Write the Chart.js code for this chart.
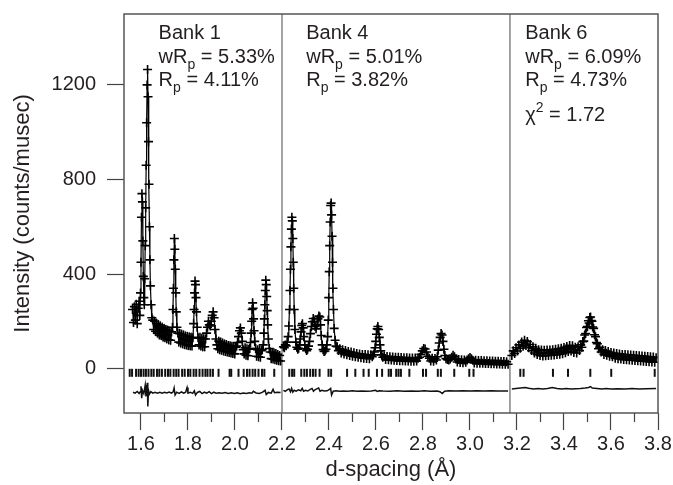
<!DOCTYPE html>
<html lang="en">
<head>
<meta charset="UTF-8">
<title>Rietveld fit - three banks</title>
<style>
  body { margin: 0; padding: 0; background: #fff; }
  .wrap { width: 673px; height: 485px; position: relative; }
</style>
<script src="https://cdn.jsdelivr.net/npm/chart.js"></script>
</head>
<body>
<div class="wrap"><canvas id="fit"></canvas></div>

<script>
// ---- data ----
// observed intensity (counts/musec) vs d-spacing (A), one pair of arrays per bank
const bank1D = [
  1.564, 1.568, 1.572, 1.576, 1.580, 1.584, 1.588, 1.592, 1.595, 1.598,
  1.600, 1.602, 1.604, 1.606, 1.608, 1.610, 1.612, 1.614, 1.616, 1.618,
  1.620, 1.622, 1.624, 1.626, 1.628, 1.630, 1.632, 1.634, 1.636, 1.638,
  1.640, 1.643, 1.646, 1.650, 1.654, 1.658, 1.662, 1.666, 1.670, 1.674,
  1.678, 1.682, 1.686, 1.690, 1.694, 1.698, 1.702, 1.706, 1.710, 1.714,
  1.718, 1.722, 1.726, 1.730, 1.734, 1.736, 1.738, 1.740, 1.742, 1.744,
  1.746, 1.748, 1.750, 1.753, 1.757, 1.761, 1.765, 1.769, 1.773, 1.777,
  1.781, 1.785, 1.789, 1.793, 1.797, 1.801, 1.805, 1.809, 1.813, 1.817,
  1.821, 1.824, 1.826, 1.828, 1.830, 1.832, 1.834, 1.836, 1.839, 1.843,
  1.847, 1.851, 1.855, 1.859, 1.863, 1.867, 1.871, 1.875, 1.879, 1.883,
  1.887, 1.891, 1.895, 1.899, 1.903, 1.907, 1.911, 1.915, 1.919, 1.923,
  1.927, 1.931, 1.935, 1.939, 1.943, 1.947, 1.951, 1.955, 1.959, 1.963,
  1.967, 1.971, 1.975, 1.979, 1.983, 1.987, 1.991, 1.995, 1.999, 2.003,
  2.007, 2.011, 2.015, 2.019, 2.023, 2.027, 2.031, 2.035, 2.039, 2.043,
  2.047, 2.051, 2.055, 2.059, 2.063, 2.066, 2.069, 2.071, 2.073, 2.075,
  2.077, 2.079, 2.081, 2.084, 2.088, 2.092, 2.096, 2.100, 2.104, 2.108,
  2.112, 2.116, 2.120, 2.123, 2.125, 2.127, 2.129, 2.131, 2.133, 2.135,
  2.137, 2.139, 2.142, 2.146, 2.150, 2.154, 2.158, 2.162, 2.166, 2.170,
  2.174, 2.178, 2.182, 2.186, 2.190, 2.194
];
const bank1Obs = [
  250, 195, 262, 205, 272, 190, 255, 285, 225, 320,
  450, 640, 740, 705, 540, 390, 300, 270, 380, 520,
  680, 860, 1040, 1200, 1265, 1150, 960, 780, 600, 460,
  350, 270, 215, 205, 165, 200, 158, 192, 150, 185,
  142, 180, 140, 175, 134, 170, 130, 165, 126, 162,
  122, 158, 120, 155, 175, 250, 340, 460, 550, 505,
  420, 320, 240, 175, 150, 112, 148, 108, 145, 105,
  142, 102, 138, 100, 136, 98, 134, 96, 132, 95,
  130, 190, 250, 320, 370, 355, 300, 240, 175, 130,
  100, 132, 95, 128, 92, 126, 92, 125, 150, 175,
  200, 185, 180, 200, 225, 240, 215, 165, 125, 100,
  84, 116, 80, 112, 77, 108, 74, 104, 72, 102,
  70, 98, 68, 96, 66, 94, 64, 92, 62, 90,
  95, 110, 135, 160, 172, 150, 115, 80, 62, 88,
  56, 84, 54, 82, 85, 110, 150, 200, 250, 278,
  255, 210, 160, 115, 85, 52, 80, 50, 78, 48,
  76, 80, 100, 150, 210, 270, 330, 374, 355, 305,
  245, 185, 125, 85, 70, 42, 68, 40, 66, 37,
  64, 35, 60, 33, 55, 32
];

const bank4D = [
  2.206, 2.210, 2.214, 2.218, 2.222, 2.226, 2.229, 2.232, 2.234, 2.236,
  2.238, 2.240, 2.242, 2.244, 2.246, 2.248, 2.250, 2.252, 2.255, 2.259,
  2.263, 2.267, 2.271, 2.275, 2.278, 2.281, 2.284, 2.287, 2.290, 2.293,
  2.297, 2.301, 2.305, 2.309, 2.313, 2.317, 2.321, 2.325, 2.329, 2.333,
  2.337, 2.341, 2.345, 2.349, 2.353, 2.357, 2.361, 2.364, 2.367, 2.371,
  2.375, 2.379, 2.383, 2.387, 2.391, 2.394, 2.397, 2.399, 2.401, 2.403,
  2.405, 2.407, 2.409, 2.411, 2.413, 2.415, 2.417, 2.419, 2.422, 2.426,
  2.430, 2.435, 2.440, 2.446, 2.452, 2.458, 2.464, 2.470, 2.476, 2.482,
  2.488, 2.494, 2.500, 2.506, 2.512, 2.518, 2.524, 2.530, 2.536, 2.542,
  2.548, 2.554, 2.560, 2.566, 2.572, 2.578, 2.584, 2.589, 2.593, 2.596,
  2.599, 2.602, 2.605, 2.608, 2.611, 2.614, 2.617, 2.620, 2.624, 2.629,
  2.635, 2.641, 2.647, 2.653, 2.659, 2.665, 2.671, 2.677, 2.683, 2.689,
  2.695, 2.701, 2.707, 2.713, 2.719, 2.725, 2.731, 2.737, 2.743, 2.749,
  2.755, 2.761, 2.767, 2.773, 2.779, 2.785, 2.791, 2.797, 2.803, 2.809,
  2.815, 2.821, 2.827, 2.833, 2.839, 2.845, 2.851, 2.857, 2.861, 2.865,
  2.869, 2.873, 2.877, 2.881, 2.885, 2.889, 2.893, 2.898, 2.904, 2.910,
  2.916, 2.922, 2.928, 2.934, 2.940, 2.946, 2.952, 2.958, 2.964, 2.970,
  2.976, 2.982, 2.988, 2.994, 3.000, 3.006, 3.012, 3.018, 3.024, 3.030,
  3.036, 3.042, 3.048, 3.054, 3.060, 3.066, 3.072, 3.078, 3.084, 3.090,
  3.096, 3.102, 3.108, 3.114, 3.120, 3.126, 3.132, 3.138, 3.144, 3.150,
  3.156, 3.162
];
const bank4Obs = [
  92, 88, 100, 96, 112, 135, 180, 250, 330, 420,
  515, 590, 640, 625, 550, 450, 340, 250, 165, 112,
  90, 82, 86, 100, 125, 155, 182, 190, 172, 135,
  100, 84, 76, 82, 95, 115, 148, 178, 198, 212,
  200, 178, 168, 185, 210, 222, 218, 185, 140, 100,
  80, 72, 74, 82, 100, 135, 205, 300, 410, 520,
  620, 690, 700, 650, 560, 450, 340, 250, 170, 120,
  95, 92, 76, 84, 66, 80, 62, 76, 58, 72,
  55, 70, 52, 67, 50, 64, 48, 62, 46, 60,
  44, 59, 43, 58, 42, 58, 50, 58, 70, 88,
  115, 145, 168, 178, 165, 132, 100, 75, 58, 48,
  52, 38, 51, 37, 50, 36, 49, 35, 48, 34,
  48, 33, 47, 33, 46, 32, 46, 32, 45, 31,
  45, 31, 45, 32, 44, 48, 60, 75, 85, 83,
  70, 52, 44, 32, 44, 31, 43, 36, 50, 78,
  108, 132, 148, 142, 115, 82, 55, 42, 38, 36,
  40, 48, 56, 50, 40, 28, 38, 26, 37, 25,
  36, 27, 36, 42, 47, 42, 35, 24, 35, 23,
  34, 22, 34, 22, 33, 21, 33, 21, 32, 20,
  32, 20, 31, 19, 31, 19, 30, 18, 30, 18,
  29, 18
];

const bank6D = [
  3.178, 3.184, 3.190, 3.196, 3.202, 3.208, 3.214, 3.220, 3.226, 3.232,
  3.238, 3.244, 3.250, 3.256, 3.262, 3.268, 3.274, 3.280, 3.286, 3.292,
  3.298, 3.304, 3.310, 3.316, 3.322, 3.328, 3.334, 3.340, 3.346, 3.352,
  3.358, 3.364, 3.370, 3.376, 3.382, 3.388, 3.394, 3.400, 3.406, 3.412,
  3.418, 3.424, 3.430, 3.436, 3.442, 3.448, 3.454, 3.460, 3.466, 3.471,
  3.476, 3.480, 3.484, 3.488, 3.492, 3.496, 3.500, 3.504, 3.507, 3.510,
  3.513, 3.516, 3.519, 3.522, 3.526, 3.530, 3.534, 3.538, 3.542, 3.547,
  3.552, 3.558, 3.564, 3.570, 3.576, 3.582, 3.588, 3.594, 3.600, 3.606,
  3.612, 3.618, 3.624, 3.630, 3.636, 3.642, 3.648, 3.654, 3.660, 3.666,
  3.672, 3.678, 3.684, 3.690, 3.696, 3.702, 3.708, 3.714, 3.720, 3.726,
  3.732, 3.738, 3.744, 3.750, 3.756, 3.762, 3.768, 3.774, 3.780, 3.786,
  3.792
];
const bank6Obs = [
  55, 75, 64, 88, 74, 100, 86, 112, 94, 120,
  98, 114, 88, 102, 76, 92, 66, 86, 60, 80,
  55, 78, 53, 77, 54, 78, 55, 79, 56, 80,
  57, 82, 59, 84, 61, 86, 63, 89, 67, 93,
  72, 98, 74, 96, 68, 90, 66, 92, 76, 100,
  90, 114, 116, 142, 148, 174, 178, 202, 193, 216,
  218, 203, 200, 176, 170, 143, 135, 110, 105, 84,
  90, 70, 80, 60, 76, 56, 72, 52, 68, 50,
  66, 44, 64, 42, 62, 40, 60, 38, 59, 37,
  58, 36, 57, 35, 56, 34, 55, 33, 54, 32,
  53, 31, 52, 30, 51, 29, 50, 28, 49, 27,
  46
];

// reflection positions (tick rows)
const bank1Refl = [1.552, 1.562, 1.579, 1.590, 1.600, 1.611, 1.621, 1.632, 1.644, 1.654,
  1.668, 1.678, 1.689, 1.703, 1.715, 1.725, 1.739, 1.750, 1.760, 1.775,
  1.786, 1.800, 1.810, 1.824, 1.835, 1.849, 1.862, 1.874, 1.883, 1.895,
  1.906, 1.930, 1.977, 1.984, 2.015, 2.037, 2.051, 2.062, 2.075, 2.086,
  2.100, 2.115, 2.125, 2.167];
const bank4Refl = [2.231, 2.243, 2.252, 2.282, 2.295, 2.306, 2.320, 2.332, 2.343, 2.360,
  2.398, 2.409, 2.477, 2.512, 2.547, 2.569, 2.604, 2.626, 2.654, 2.664,
  2.686, 2.696, 2.706, 2.742, 2.800, 2.813, 2.863, 2.876, 2.933, 2.997, 3.015];
const bank6Refl = [3.214, 3.228, 3.353, 3.417, 3.512, 3.601, 3.786];

// difference curves (obs - calc, drawn offset below zero)
const bank1DiffD = [1.566, 1.575, 1.584, 1.592, 1.597, 1.600, 1.603, 1.606, 1.612, 1.618,
  1.621, 1.624, 1.627, 1.629, 1.632, 1.636, 1.642, 1.650, 1.660, 1.670,
  1.680, 1.690, 1.700, 1.710, 1.720, 1.730, 1.737, 1.741, 1.745, 1.752,
  1.762, 1.772, 1.782, 1.790, 1.796, 1.800, 1.810, 1.820, 1.827, 1.832,
  1.840, 1.850, 1.860, 1.870, 1.880, 1.890, 1.900, 1.910, 1.920, 1.932,
  1.945, 1.958, 1.971, 1.984, 1.997, 2.010, 2.022, 2.035, 2.048, 2.061,
  2.072, 2.078, 2.090, 2.103, 2.116, 2.128, 2.133, 2.142, 2.154, 2.162,
  2.168, 2.180, 2.194];
const bank1Diff = [-100, -104, -97, -106, -98, -75, -125, -92, -106, -70,
  -118, -90, -60, -160, -92, -108, -98, -104, -100, -104,
  -100, -104, -100, -103, -99, -104, -98, -82, -112, -100,
  -105, -99, -104, -100, -80, -104, -100, -105, -94, -112,
  -101, -97, -106, -100, -104, -98, -106, -100, -104, -102,
  -104, -101, -105, -102, -105, -102, -106, -103, -105, -102,
  -104, -96, -103, -105, -101, -92, -110, -101, -104, -88,
  -102, -100, -101];
const bank4DiffD = [2.206, 2.214, 2.222, 2.230, 2.236, 2.241, 2.246, 2.252, 2.260, 2.270,
  2.280, 2.286, 2.292, 2.300, 2.310, 2.320, 2.328, 2.334, 2.340, 2.348,
  2.356, 2.362, 2.370, 2.380, 2.392, 2.402, 2.407, 2.411, 2.418, 2.430,
  2.445, 2.460, 2.480, 2.500, 2.520, 2.540, 2.560, 2.580, 2.598, 2.606,
  2.614, 2.630, 2.660, 2.690, 2.720, 2.750, 2.780, 2.805, 2.830, 2.860,
  2.872, 2.882, 2.892, 2.910, 2.940, 2.970, 3.000, 3.030, 3.060, 3.090,
  3.120, 3.162];
const bank4Diff = [-92, -96, -90, -86, -98, -84, -100, -92, -96, -90,
  -94, -84, -96, -92, -95, -88, -84, -96, -90, -86,
  -82, -96, -92, -95, -94, -88, -84, -112, -96, -94,
  -96, -95, -96, -94, -96, -95, -96, -95, -92, -97,
  -94, -95, -96, -94, -96, -95, -96, -94, -96, -95,
  -98, -106, -96, -94, -95, -94, -95, -94, -95, -94,
  -95, -95];
const bank6DiffD = [3.178, 3.195, 3.215, 3.235, 3.250, 3.270, 3.290, 3.310, 3.330, 3.350,
  3.370, 3.390, 3.410, 3.430, 3.450, 3.470, 3.490, 3.505, 3.512, 3.520,
  3.540, 3.560, 3.580, 3.600, 3.630, 3.660, 3.690, 3.720, 3.750, 3.792];
const bank6Diff = [-86, -84, -82, -80, -83, -86, -84, -86, -84, -80,
  -84, -86, -84, -86, -85, -84, -82, -80, -76, -82,
  -84, -86, -84, -86, -85, -86, -84, -86, -85, -84];

// bank boundaries, tick values and fit statistics
const bankEdges = [2.2, 3.17];
const xMajorTicks = [1.6, 1.8, 2.0, 2.2, 2.4, 2.6, 2.8, 3.0, 3.2, 3.4, 3.6, 3.8];
const xMinorTicks = [1.7, 1.9, 2.1, 2.3, 2.5, 2.7, 2.9, 3.1, 3.3, 3.5, 3.7];
const yTicks = [0, 400, 800, 1200];
const bankNames = ['Bank 1', 'Bank 4', 'Bank 6'];
const wRpVals = ['5.33%', '5.01%', '6.09%'];
const rpVals = ['4.11%', '3.82%', '4.73%'];
const chiVals = [null, null, '1.72'];
const labelD = [1.675, 2.303, 3.235];   // left edge of each bank's text block
const reflRowY = -18;

// ---- helpers ----
const FONT = 'Arial, "Liberation Sans", Helvetica, sans-serif';
const INK = '#231f20';

function pairs(xs, ys) {
  const n = Math.min(xs.length, ys.length);
  const out = [];
  for (let i = 0; i < n; i++) out.push({ x: xs[i], y: ys[i] });
  return out;
}

function obsSet(xs, ys) {
  return {
    data: pairs(xs, ys),
    showLine: true,
    borderColor: '#000',
    borderWidth: 1.2,
    pointStyle: 'cross',
    pointRadius: 4.5,
    pointBorderWidth: 1.6,
    pointBorderColor: '#000',
    pointBackgroundColor: '#000'
  };
}

function reflSet(xs) {
  return {
    data: xs.map(d => ({ x: d, y: reflRowY })),
    showLine: false,
    pointStyle: 'line',
    rotation: 90,
    pointRadius: 4,
    pointBorderWidth: 2,
    pointBorderColor: '#111'
  };
}

function diffSet(xs, ys) {
  return {
    data: pairs(xs, ys),
    showLine: true,
    borderColor: '#111',
    borderWidth: 1.5,
    pointRadius: 0
  };
}

// draws text pieces one after another; shift > 0 is subscript, < 0 superscript
function richText(ctx, x, y, pieces) {
  let cx = x;
  pieces.forEach(([txt, shift]) => {
    ctx.font = (shift ? '14px ' : '20px ') + FONT;
    const dy = shift > 0 ? 6 : (shift < 0 ? -9 : 0);
    ctx.fillText(txt, cx, y + dy);
    cx += ctx.measureText(txt).width;
  });
}

const framePlugin = {
  id: 'frame',
  beforeDatasetsDraw(chart) {
    const { ctx, chartArea: a, scales: { x } } = chart;
    ctx.save();
    ctx.strokeStyle = '#666';
    ctx.lineWidth = 1.2;
    bankEdges.forEach(d => {
      const px = x.getPixelForValue(d);
      ctx.beginPath();
      ctx.moveTo(px, a.top);
      ctx.lineTo(px, a.bottom);
      ctx.stroke();
    });
    ctx.restore();
  },
  afterDraw(chart) {
    const { ctx, chartArea: a, scales: { x } } = chart;
    ctx.save();
    ctx.strokeStyle = '#555';
    ctx.lineWidth = 1.5;
    ctx.strokeRect(a.left, a.top, a.right - a.left, a.bottom - a.top);

    // minor ticks on the d-spacing axis
    ctx.strokeStyle = '#444';
    ctx.lineWidth = 1.2;
    xMinorTicks.forEach(v => {
      const px = x.getPixelForValue(v);
      ctx.beginPath();
      ctx.moveTo(px, a.bottom);
      ctx.lineTo(px, a.bottom + 9);
      ctx.stroke();
    });

    // bank labels and agreement factors
    ctx.fillStyle = INK;
    ctx.textBaseline = 'alphabetic';
    ctx.textAlign = 'left';
    bankNames.forEach((name, i) => {
      const x0 = x.getPixelForValue(labelD[i]);
      richText(ctx, x0, a.top + 25, [[name, 0]]);
      richText(ctx, x0, a.top + 49, [['wR', 0], ['p', 1], [' = ' + wRpVals[i], 0]]);
      richText(ctx, x0, a.top + 72, [['R', 0], ['p', 1], [' = ' + rpVals[i], 0]]);
      if (chiVals[i]) {
        richText(ctx, x0, a.top + 107, [['\u03c7', 0], ['2', -1], [' = ' + chiVals[i], 0]]);
      }
    });
    ctx.restore();
  }
};

const config = {
  type: 'scatter',
  data: {
    datasets: [
      obsSet(bank1D, bank1Obs),
      obsSet(bank4D, bank4Obs),
      obsSet(bank6D, bank6Obs),
      reflSet(bank1Refl),
      reflSet(bank4Refl),
      reflSet(bank6Refl),
      diffSet(bank1DiffD, bank1Diff),
      diffSet(bank4DiffD, bank4Diff),
      diffSet(bank6DiffD, bank6Diff)
    ]
  },
  options: {
    responsive: true,
    maintainAspectRatio: false,
    animation: false,
    events: [],
    layout: { padding: { top: 14, right: 15, left: 0, bottom: 0 } },
    plugins: {
      legend: { display: false },
      tooltip: { enabled: false }
    },
    scales: {
      x: {
        type: 'linear',
        min: 1.5277,
        max: 3.8,
        afterBuildTicks: s => { s.ticks = xMajorTicks.map(v => ({ value: v })); },
        afterFit: s => { s.height = 72; s.paddingLeft = 0; s.paddingRight = 0; },
        ticks: {
          callback: v => Number(v).toFixed(1),
          font: { family: FONT, size: 20 },
          color: INK,
          padding: 2,
          maxRotation: 0,
          autoSkip: false
        },
        grid: { drawOnChartArea: false, tickLength: 17, color: '#444', tickWidth: 1.2 },
        border: { display: false },
        title: {
          display: true,
          text: 'd-spacing (\u00c5)',
          font: { family: FONT, size: 22 },
          color: INK,
          padding: { top: 0, bottom: 2 }
        }
      },
      y: {
        type: 'linear',
        min: -188,
        max: 1500,
        afterBuildTicks: s => { s.ticks = yTicks.map(v => ({ value: v })); },
        afterFit: s => { s.width = 124; s.paddingTop = 0; s.paddingBottom = 0; },
        ticks: {
          callback: v => String(v),
          font: { family: FONT, size: 20 },
          color: INK,
          padding: 11
        },
        grid: { drawOnChartArea: false, tickLength: 17, color: '#444', tickWidth: 1.2 },
        border: { display: false },
        title: {
          display: true,
          text: 'Intensity (counts/musec)',
          font: { family: FONT, size: 22 },
          color: INK,
          padding: { top: 10, bottom: 0 }
        }
      }
    }
  },
  plugins: [framePlugin]
};

window.onload = function () {
  const ctx = document.getElementById('fit').getContext('2d');
  new Chart(ctx, config);
};
</script>
</body>
</html>
